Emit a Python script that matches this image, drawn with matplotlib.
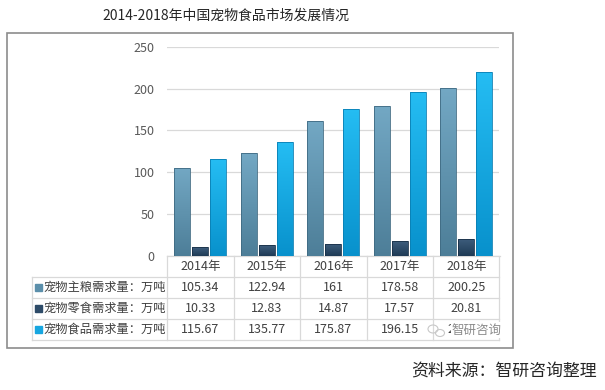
import numpy as np
import matplotlib
matplotlib.use("Agg")
import matplotlib.pyplot as plt
from matplotlib.colors import LinearSegmentedColormap
from matplotlib import transforms
from matplotlib.patches import Rectangle, Ellipse

plt.rcParams['font.family'] = ['Noto Sans CJK SC', 'DejaVu Sans']

title = "2014-2018年中国宠物食品市场发展情况"
source = "资料来源：智研咨询整理"
watermark = "智研咨询"
years = ["2014年", "2015年", "2016年", "2017年", "2018年"]
series_names = ["宠物主粮需求量：万吨", "宠物零食需求量：万吨", "宠物食品需求量：万吨"]
staple = [105.34, 122.94, 161, 178.58, 200.25]
snack = [10.33, 12.83, 14.87, 17.57, 20.81]
total = [115.67, 135.77, 175.87, 196.15, 220.06]
table_text = [["105.34", "122.94", "161", "178.58", "200.25"],
              ["10.33", "12.83", "14.87", "17.57", "20.81"],
              ["115.67", "135.77", "175.87", "196.15", "220.06"]]
yticks = [0, 50, 100, 150, 200, 250]

# gradient colours (top, bottom) and legend colours
grads = [("#73a8c4", "#4d7e98"), ("#3f5f7e", "#1e3a55"), ("#25bdf3", "#0891cc")]
edges = ["#3f6a82", "#1a3148", "#0a7fb3"]
keys = ["#5b8fab", "#2d4b68", "#16a6e0"]

W, H = 605, 390
fig = plt.figure(figsize=(W / 100, H / 100), dpi=100)

# pixel overlay axes
pix = fig.add_axes([0, 0, 1, 1])
pix.set_xlim(0, W)
pix.set_ylim(H, 0)
pix.axis("off")

# main axes
L, R, T, B = 167, 499.5, 46.7, 256
ax = fig.add_axes([L / W, (H - B) / H, (R - L) / W, (B - T) / H])
ax.set_xlim(-0.5, len(years) - 0.5)
ax.set_ylim(0, 250)
ax.set_yticks(yticks)
ax.set_xticks([])
ax.tick_params(axis="y", length=0, labelsize=9, labelcolor="#595959", pad=9)
for s in ax.spines.values():
    s.set_visible(False)
ax.grid(axis="y", color="#d9d9d9", lw=0.9)
ax.set_axisbelow(True)
ax.patch.set_alpha(0)

x = np.arange(len(years))
offs = [-0.27, 0.0, 0.27]
bw = 0.24
grad = np.linspace(1, 0, 256).reshape(-1, 1)
for k, vals in enumerate([staple, snack, total]):
    cmap = LinearSegmentedColormap.from_list(f"g{k}", [grads[k][1], grads[k][0]])
    bars = ax.bar(x + offs[k], vals, width=bw, color="none",
                  edgecolor=edges[k], lw=0.6, zorder=3)
    for b in bars:
        x0, w, h = b.get_x(), b.get_width(), b.get_height()
        im = ax.imshow(grad, extent=[x0, x0 + w, 0, h], aspect="auto",
                       cmap=cmap, vmin=0, vmax=1, zorder=2, interpolation="bicubic")
        im.set_clip_path(b)
ax.set_xlim(-0.5, len(years) - 0.5)
ax.set_ylim(0, 250)

# table
bt = transforms.blended_transform_factory(ax.transData, pix.transData)
line_c = "#d9d9d9"
row_y = [256, 277, 298, 319, 340]
lab_left = 32
lab_x = ax.transData.inverted().transform(pix.transData.transform((lab_left, 0)))[0]
pix.plot([L, R], [256, 256], color=line_c, lw=0.9)
for yy in row_y[1:]:
    ax.plot([lab_x, len(years) - 0.5], [yy, yy], color=line_c, lw=0.9,
            transform=bt, clip_on=False)
for i in range(len(years) + 1):
    ax.plot([i - 0.5, i - 0.5], [row_y[0], row_y[-1]], color=line_c, lw=0.9,
            transform=bt, clip_on=False)
ax.plot([lab_x, lab_x], [row_y[1], row_y[-1]], color=line_c, lw=0.9,
        transform=bt, clip_on=False)

for i, yr in enumerate(years):
    ax.text(i, (row_y[0] + row_y[1]) / 2, yr, transform=bt, ha="center",
            va="center", fontsize=9, color="#404040", clip_on=False)
for r in range(3):
    yc = (row_y[r + 1] + row_y[r + 2]) / 2
    for i in range(len(years)):
        ax.text(i, yc, table_text[r][i], transform=bt, ha="center",
                va="center", fontsize=9, color="#404040", clip_on=False)
    pix.add_patch(Rectangle((lab_left + 3, yc - 3.5), 7, 7, color=keys[r]))
    pix.text(lab_left + 11, yc, series_names[r], ha="left", va="center",
             fontsize=8.8, color="#404040")

# watermark (covers most of the last cell, as in the reference)
pt = pix.transData
ax.add_patch(Rectangle((451, 322), 51, 16, facecolor="white", edgecolor="none",
                       zorder=10, transform=pt, clip_on=False))
ax.text(477, 330.5, watermark, ha="center", va="center", fontsize=9,
        color="#8a8a8a", zorder=11, transform=pt, clip_on=False)
ax.add_patch(Ellipse((433, 329), 10, 8, fill=False, ec="#c8c8c8", lw=0.8,
                     zorder=11, transform=pt, clip_on=False))
ax.add_patch(Ellipse((440, 333), 9, 7, fill=False, ec="#c8c8c8", lw=0.8,
                     zorder=11, transform=pt, clip_on=False))

# frame
pix.add_patch(Rectangle((7, 33), 506, 315, fill=False, ec="#8c8c8c", lw=1.2))

# title and source
pix.text(226, 16, title, ha="center", va="center", fontsize=10, color="#262626")
pix.text(597, 372, source, ha="right", va="center", fontsize=12.2, color="#262626")

fig.savefig("out.png", dpi=100)
